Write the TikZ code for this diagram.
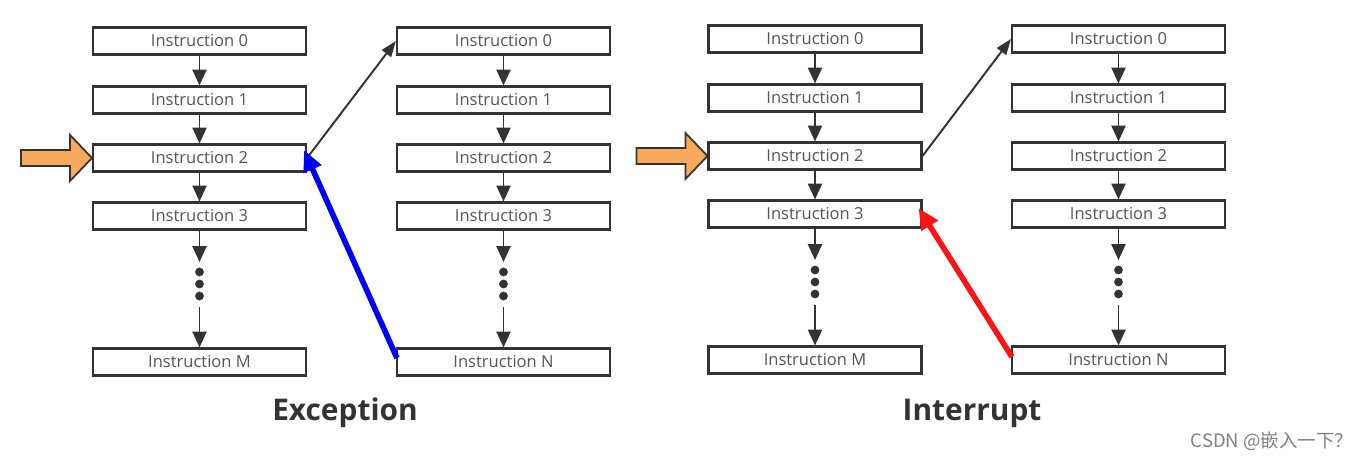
\documentclass[tikz,border=0pt]{standalone}
\usepackage{fontspec}
\setmainfont{Open Sans}
\newfontfamily\cjkfont{Noto Sans CJK SC}
\usepackage{tikz}
\usetikzlibrary{arrows.meta,calc}
\definecolor{instGray}   {RGB}{51,  51,  51}
\definecolor{instText}   {RGB}{85,  85,  85}
\definecolor{entryOrange}{RGB}{248, 170, 92}
\definecolor{excBlue}    {RGB}{0,    0, 245}
\definecolor{intRed}     {RGB}{250, 20,  20}

\begin{document}
\begin{tikzpicture}[x=0.02cm,y=-0.02cm,
    instbox/.style={draw=instGray,line width=1.2pt,fill=white,
                    minimum width=4.26cm,minimum height=0.54cm,inner sep=0pt,
                    font=\fontsize{9.4}{10}\selectfont,text=instText},
    flow/.style={draw=instGray,line width=1.1pt,-{Triangle[length=9pt,width=8pt]}},
    jump/.style={draw=instGray,line width=1.1pt,-{Triangle[length=9pt,width=6.5pt]}},
    back/.style={line width=3.2pt,-{Triangle[length=12pt,width=10.5pt]}},
    entry/.style={draw=instGray,line width=1pt,fill=entryOrange,line join=miter},
    dot/.style={circle,fill=instGray,inner sep=0pt,minimum size=5pt},
    title/.style={font=\bfseries\fontsize{17}{20}\selectfont,text=instGray}]

    \useasboundingbox (0,0) rectangle (1371,462);

    % Colunas de instrucoes
    \foreach \col/\x/\dy/\lastlbl in {a/199.5/0/M, b/503.5/0/N, c/815/2/M, d/1118.5/2/N}{
      \foreach \i/\y in {0/41,1/100,2/158,3/216}
        \node[instbox] (\col\i) at (\x,\y-\dy) {Instruction \i};
      \node[instbox] (\col\lastlbl) at (\x,362-\dy) {Instruction \lastlbl};
      \draw[flow] (\col0) -- (\col1);
      \draw[flow] (\col1) -- (\col2);
      \draw[flow] (\col2) -- (\col3);
      \coordinate (\col-t) at (\x,262-\dy);
      \draw[flow] (\col3) -- (\col-t);
      \foreach \k in {272,284,296}
        \node[dot] (\col-d\k) at (\x,\k-\dy) {};
      \coordinate (\col-s) at (\x,307-\dy);
      \draw[flow] (\col-s) -- (\col\lastlbl);
    }

    % Seta de entrada
    \foreach \col in {a,c}
      \draw[entry] (\col2.west) -- ++(-22,-23) -- ++(0,15) -- ++(-49,0)
                   -- ++(0,16) -- ++(49,0) -- ++(0,15) -- cycle;

    % Desvio e retorno
    \draw[jump] (a2.east) -- (b0.west);
    \draw[jump] (c2.east) -- (d0.west);
    \draw[back,excBlue] ($(bN.west)+(1,-4)$) -- ($(a2.east)+(-3,-8)$);
    \draw[back,intRed] ($(dN.west)+(1,-3)$) -- ($(c3.east)+(-4,-6)$);

    % Titulos
    \node[title] (excT) at (345,413) {Exception};
    \node[title] (intT) at (972,413) {Interrupt};
    \node[font=\cjkfont\fontsize{10.5}{12}\selectfont,text=gray] (mark) at (1272,441)
      {CSDN @嵌入一下？};

\end{tikzpicture}
\end{document}
